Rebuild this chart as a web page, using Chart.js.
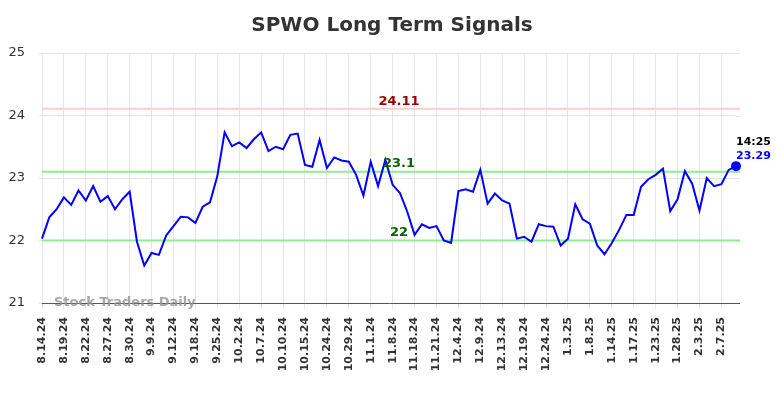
<!DOCTYPE html>
<html>
<head>
<meta charset="utf-8">
<script src="https://cdn.jsdelivr.net/npm/chart.js@4"></script>
<style>
  body { margin: 0; background: #fff; }
</style>
</head>
<body>
<canvas id="signalChart" width="784" height="398"></canvas>
<script>
// chart values

const dates = [
    '8.14.24', '8.15.24', '8.16.24', '8.19.24', '8.20.24', '8.21.24', '8.22.24', '8.23.24', '8.26.24', '8.27.24',
    '8.28.24', '8.29.24', '8.30.24', '9.3.24', '9.5.24', '9.9.24', '9.10.24', '9.11.24', '9.12.24', '9.13.24',
    '9.16.24', '9.18.24', '9.19.24', '9.23.24', '9.25.24', '9.26.24', '9.30.24', '10.2.24', '10.3.24', '10.4.24',
    '10.7.24', '10.8.24', '10.9.24', '10.10.24', '10.11.24', '10.14.24', '10.15.24', '10.17.24', '10.22.24', '10.24.24',
    '10.25.24', '10.28.24', '10.29.24', '10.30.24', '10.31.24', '11.1.24', '11.5.24', '11.6.24', '11.8.24', '11.12.24',
    '11.14.24', '11.18.24', '11.19.24', '11.20.24', '11.21.24', '11.25.24', '12.2.24', '12.4.24', '12.5.24', '12.6.24',
    '12.9.24', '12.11.24', '12.12.24', '12.13.24', '12.17.24', '12.18.24', '12.19.24', '12.20.24', '12.23.24', '12.24.24',
    '12.27.24', '12.31.24', '1.3.25', '1.6.25', '1.7.25', '1.8.25', '1.10.25', '1.13.25', '1.14.25', '1.15.25',
    '1.16.25', '1.17.25', '1.21.25', '1.22.25', '1.23.25', '1.24.25', '1.27.25', '1.28.25', '1.30.25', '1.31.25',
    '2.3.25', '2.4.25', '2.5.25', '2.7.25', '2.10.25', '2.11.25'
];

const prices = [
    22.03, 22.37, 22.50, 22.69, 22.57, 22.80, 22.64, 22.87, 22.62, 22.71,
    22.50, 22.66, 22.78, 21.98, 21.60, 21.80, 21.77, 22.08, 22.23, 22.38,
    22.37, 22.28, 22.54, 22.61, 23.03, 23.73, 23.51, 23.57, 23.48, 23.62,
    23.73, 23.43, 23.50, 23.46, 23.69, 23.71, 23.21, 23.18, 23.61, 23.16,
    23.33, 23.28, 23.26, 23.05, 22.72, 23.26, 22.87, 23.29, 22.89, 22.76,
    22.46, 22.09, 22.26, 22.20, 22.23, 22.00, 21.96, 22.79, 22.82, 22.78,
    23.13, 22.59, 22.75, 22.64, 22.59, 22.03, 22.06, 21.98, 22.26, 22.23,
    22.22, 21.92, 22.03, 22.58, 22.34, 22.27, 21.92, 21.78, 21.96, 22.17,
    22.41, 22.41, 22.86, 22.98, 23.05, 23.15, 22.47, 22.66, 23.11, 22.91,
    22.48, 23.00, 22.87, 22.90, 23.13, 23.19
];

const yTicks = [21, 22, 23, 24, 25];
const resistanceLevels = [24.11];
const supportLevels = [23.1, 22];
const lastTime = '14:25';
const lastPriceText = '23.29';

Chart.defaults.font.family = 'DejaVu Sans';

// the plot runs a few px past the last point
const rightExtra = 4;

// horizontal signal lines, their labels, title, watermark and last price tag
const signalPlugin = {
    id: 'signals',
    beforeDatasetsDraw(chart) {
        const ctx = chart.ctx;
        const area = chart.chartArea;
        const y = chart.scales.y;
        ctx.save();
        // stretch grid and axis a bit to the right
        ctx.lineWidth = 1;
        ctx.strokeStyle = '#e6e6e6';
        yTicks.slice(1).forEach(v => {
            const py = Math.round(y.getPixelForValue(v)) + 0.5;
            ctx.beginPath();
            ctx.moveTo(area.right, py);
            ctx.lineTo(area.right + rightExtra, py);
            ctx.stroke();
        });
        ctx.strokeStyle = '#555555';
        ctx.beginPath();
        ctx.moveTo(area.right, Math.round(area.bottom) + 0.5);
        ctx.lineTo(area.right + rightExtra, Math.round(area.bottom) + 0.5);
        ctx.stroke();

        ctx.lineWidth = 2;
        resistanceLevels.forEach(v => {
            ctx.strokeStyle = '#ffcccc';
            ctx.beginPath();
            ctx.moveTo(area.left, y.getPixelForValue(v));
            ctx.lineTo(area.right + rightExtra, y.getPixelForValue(v));
            ctx.stroke();
        });
        supportLevels.forEach(v => {
            ctx.strokeStyle = '#90ee90';
            ctx.beginPath();
            ctx.moveTo(area.left, y.getPixelForValue(v));
            ctx.lineTo(area.right + rightExtra, y.getPixelForValue(v));
            ctx.stroke();
        });
        ctx.restore();
    },
    afterDatasetsDraw(chart) {
        const ctx = chart.ctx;
        const area = chart.chartArea;
        const y = chart.scales.y;
        const midX = 399;
        ctx.save();
        ctx.textAlign = 'center';
        ctx.textBaseline = 'middle';
        ctx.font = 'bold 13px "DejaVu Sans"';
        resistanceLevels.forEach(v => {
            ctx.fillStyle = '#990000';
            ctx.fillText(String(v), midX, y.getPixelForValue(v) - 7);
        });
        supportLevels.forEach(v => {
            ctx.fillStyle = '#006600';
            ctx.fillText(String(v), midX, y.getPixelForValue(v) - 8);
        });

        // title
        ctx.font = 'bold 20px "DejaVu Sans"';
        ctx.fillStyle = '#333333';
        ctx.fillText('SPWO Long Term Signals', 392, 26);

        // watermark
        ctx.textAlign = 'left';
        ctx.font = 'bold 13px "DejaVu Sans"';
        ctx.fillStyle = 'rgba(150, 150, 150, 0.85)';
        ctx.fillText('Stock Traders Daily', 54, area.bottom);

        // last price tag
        const pt = chart.getDatasetMeta(0).data[prices.length - 1];
        ctx.font = 'bold 11px "DejaVu Sans"';
        ctx.fillStyle = '#000000';
        ctx.fillText(lastTime, pt.x, pt.y - 24);
        ctx.fillStyle = '#0000ff';
        ctx.fillText(lastPriceText, pt.x, pt.y - 10);
        ctx.restore();
    }
};

const chartCanvas = document.getElementById('signalChart');
let signalChart = new Chart(chartCanvas, {
    type: 'line',
    data: {
        labels: dates,
        datasets: [{
            data: prices,
            borderColor: '#0000ff',
            backgroundColor: '#0000ff',
            borderWidth: 2,
            tension: 0,
            pointRadius: ctx => ctx.dataIndex === prices.length - 1 ? 4 : 0,
            pointHoverRadius: 0,
            clip: 8
        }]
    },
    options: {
        responsive: false,
        animation: false,
        layout: {
            padding: { top: 53, right: 44 + rightExtra, bottom: 0, left: 0 }
        },
        plugins: {
            legend: { display: false },
            title: { display: false },
            tooltip: { enabled: false }
        },
        scales: {
            x: {
                offset: false,
                afterFit(scale) { scale.height = 95; },
                grid: {
                    color: ctx => ctx.index % 3 === 0 ? '#e6e6e6' : 'rgba(0,0,0,0)',
                    tickLength: 6
                },
                border: { color: '#555555', width: 1 },
                ticks: {
                    autoSkip: false,
                    minRotation: 90,
                    maxRotation: 90,
                    padding: 8,
                    color: '#333333',
                    font: { size: 11, weight: 'bold' },
                    callback: (val, i) => i % 3 === 0 ? dates[i] : ''
                }
            },
            y: {
                min: yTicks[0],
                max: yTicks[yTicks.length - 1],
                afterFit(scale) { scale.width = 42; },
                afterBuildTicks(scale) { scale.ticks = yTicks.map(v => ({ value: v })); },
                grid: { color: '#e6e6e6', tickLength: 3 },
                border: { display: false },
                ticks: {
                    padding: 14,
                    color: '#333333',
                    font: { size: 13 }
                }
            }
        }
    },
    plugins: [signalPlugin]
});
</script>
</body>
</html>
